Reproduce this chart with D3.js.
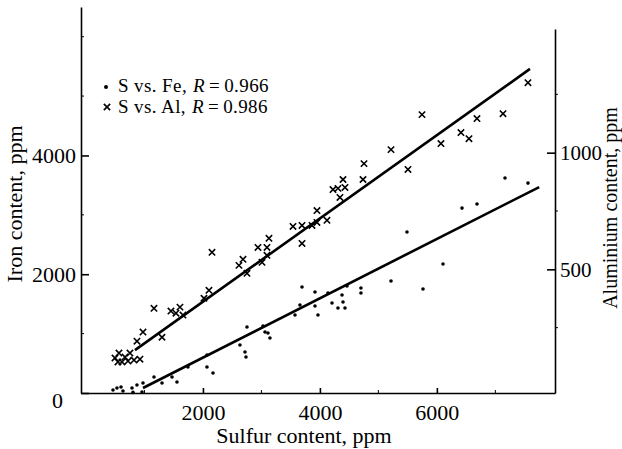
<!DOCTYPE html>
<html>
<head>
<meta charset="utf-8">
<script src="https://cdn.jsdelivr.net/npm/d3@7"></script>
<style>
  body { margin: 0; background: #fff; }
  svg { display: block; }
  text { font-family: "Liberation Serif", "Times New Roman", serif; fill: #000; }
</style>
</head>
<body>
<svg></svg>
<script>
// S vs Fe and S vs Al scatter, two y axes

// S vs. Fe (dots)
var sulfurFe = [462, 530, 599, 633, 787, 804, 872, 958, 975, 1163, 1300, 1471, 1556, 1744,
  2069, 2069, 2172, 2633, 2719, 2736, 2753, 3027, 3061, 3112, 3146, 3574, 3659, 3694,
  3916, 3967, 3916, 4138, 4207, 4309, 4429, 4395, 4378, 4463, 4702, 4702, 5216, 5489,
  5763, 6105, 6430, 6686, 7165, 7558];
var ironFe = [50, 84, 101, 34, 84, 10, 135, 17, 168, 269, 168, 269, 185, 438,
  438, 640, 337, 808, 690, 606, 1111, 1128, 1027, 1010, 926, 1313, 1481, 1785,
  1700, 1313, 1465, 1684, 1515, 1431, 1431, 1532, 1650, 1801, 1768, 1684, 1886, 2710,
  1751, 2172, 3114, 3182, 3620, 3535];

// S vs. Al (crosses)
var sulfurAl = [496, 547, 564, 616, 667, 718, 752, 821, 923, 872, 975, 1163, 1300, 1453,
  1539, 1607, 1659, 2018, 2103, 2155, 2616, 2685, 2753, 3010, 2941, 3129, 3095, 3095,
  3540, 3694, 3694, 3865, 3950, 4121, 3950, 4343, 4395, 4224, 4309, 4429, 4737, 4754,
  5216, 5746, 5506, 6070, 6412, 6549, 6686, 7131, 7558];
var aluminium = [120, 103, 141, 103, 124, 107, 141, 111, 115, 192, 231, 333, 209, 321,
  312, 338, 304, 376, 410, 573, 517, 543, 483, 530, 594, 633, 594, 560,
  684, 611, 688, 688, 701, 710, 752, 808, 885, 842, 847, 851, 885, 953,
  1013, 1163, 928, 1039, 1086, 1060, 1146, 1167, 1300];

// fitted lines (end points)
var feFitS = [975, 7750], feFitY = [84, 3468];
var alFitS = [838, 7592], alFitY = [154, 1359];

var sTicks = [2000, 4000, 6000], sMinor = [1000, 3000, 5000, 7000];
var feTicks = [0, 2000, 4000], feMinor = [1000, 3000, 5000, 6000];
var alTicks = [500, 1000], alMinor = [250, 750, 1250];

var legendRows = [
  {label: "S vs. Fe,", r: "0.966"},
  {label: "S vs. Al,", r: "0.986"}
];

var width = 622, height = 449;
var svg = d3.select("svg").attr("width", width).attr("height", height);

var x = d3.scaleLinear().domain([-85, 8020]).range([81, 555]);
var yFe = d3.scaleLinear().domain([0, 6500]).range([393, 7]);
var yAl = d3.scaleLinear().domain([-30, 1530]).range([393, 29]);

var fontSize = "22px";

// axes
var xAxis = svg.append("g")
  .attr("transform", "translate(0," + yFe(0) + ")")
  .call(d3.axisBottom(x).tickValues(sTicks).tickSize(-5).tickSizeOuter(0).tickPadding(11).tickFormat(d3.format("d")));

var leftAxis = svg.append("g")
  .attr("transform", "translate(" + x.range()[0] + ",0)")
  .call(d3.axisLeft(yFe).tickValues(feTicks).tickSize(-8).tickSizeOuter(0).tickPadding(5).tickFormat(d3.format("d")));

var rightAxis = svg.append("g")
  .attr("transform", "translate(" + x.range()[1] + ",0)")
  .call(d3.axisRight(yAl).tickValues(alTicks).tickSize(-8).tickSizeOuter(0).tickPadding(5).tickFormat(d3.format("d")));

[xAxis, leftAxis, rightAxis].forEach(function(g) {
  g.selectAll("path, line").attr("stroke", "#000").attr("stroke-width", 1.6);
  g.selectAll("text").style("font-size", fontSize).attr("font-family", null);
});
rightAxis.selectAll("text").style("font-size", "21px");

// the 0 label sits lower-left in the original
leftAxis.selectAll(".tick text").filter(function(d) { return d === 0; })
  .attr("x", -18).attr("y", 7);

// minor ticks
svg.append("g").selectAll("line").data(sMinor).enter().append("line")
  .attr("x1", function(d) { return x(d); }).attr("x2", function(d) { return x(d); })
  .attr("y1", yFe(0)).attr("y2", yFe(0) - 3)
  .attr("stroke", "#000").attr("stroke-width", 1);
svg.append("g").selectAll("line").data(feMinor).enter().append("line")
  .attr("x1", x.range()[0]).attr("x2", x.range()[0] + 3)
  .attr("y1", function(d) { return yFe(d); }).attr("y2", function(d) { return yFe(d); })
  .attr("stroke", "#000").attr("stroke-width", 1);
svg.append("g").selectAll("line").data(alMinor).enter().append("line")
  .attr("x1", x.range()[1]).attr("x2", x.range()[1] + 3)
  .attr("y1", function(d) { return yAl(d); }).attr("y2", function(d) { return yAl(d); })
  .attr("stroke", "#000").attr("stroke-width", 1);

// fit lines
var feLine = d3.line()
  .x(function(d) { return x(d[0]); })
  .y(function(d) { return yFe(d[1]); });
var alLine = d3.line()
  .x(function(d) { return x(d[0]); })
  .y(function(d) { return yAl(d[1]); });

svg.append("path")
  .datum(d3.zip(feFitS, feFitY))
  .attr("d", feLine)
  .attr("fill", "none").attr("stroke", "#000").attr("stroke-width", 2.6);
svg.append("path")
  .datum(d3.zip(alFitS, alFitY))
  .attr("d", alLine)
  .attr("fill", "none").attr("stroke", "#000").attr("stroke-width", 2.6);

// Fe dots
svg.append("g")
  .selectAll("circle")
  .data(d3.zip(sulfurFe, ironFe))
  .enter()
  .append("circle")
  .attr("cx", function(d) { return x(d[0]); })
  .attr("cy", function(d) { return yFe(d[1]); })
  .attr("r", 1.8)
  .attr("fill", "#000");

// Al crosses
var cross = d3.symbol().type(d3.symbolX).size(28);
svg.append("g")
  .selectAll("path")
  .data(d3.zip(sulfurAl, aluminium))
  .enter()
  .append("path")
  .attr("transform", function(d) { return "translate(" + x(d[0]) + "," + yAl(d[1]) + ")"; })
  .attr("d", cross)
  .attr("fill", "none")
  .attr("stroke", "#000")
  .attr("stroke-width", 1.6);

// legend, built piece by piece so the italic R gets its own text
var legend = svg.append("g").style("font-size", "19px").style("letter-spacing", "0.4px");
legend.append("circle").attr("cx", 106).attr("cy", 87).attr("r", 2).attr("fill", "#000");
legend.append("path").attr("transform", "translate(107,107)").attr("d", cross)
  .attr("fill", "none").attr("stroke", "#000").attr("stroke-width", 1.6);

legendRows.forEach(function(row, i) {
  var y = 92 + i * 21, cx = 118;
  var t1 = legend.append("text").attr("x", cx).attr("y", y).text(row.label);
  cx += t1.node().getComputedTextLength() + 6;
  var t2 = legend.append("text").attr("x", cx).attr("y", y).style("font-style", "italic").text("R");
  cx += t2.node().getComputedTextLength() + 4;
  var t3 = legend.append("text").attr("x", cx).attr("y", y).text("=");
  cx += t3.node().getComputedTextLength() + 4;
  legend.append("text").attr("x", cx).attr("y", y).text(row.r);
});

// axis titles
svg.append("text")
  .attr("x", 304).attr("y", 443)
  .attr("text-anchor", "middle")
  .style("font-size", fontSize)
  .text("Sulfur content, ppm");

svg.append("text")
  .attr("transform", "translate(22,204) rotate(-90)")
  .attr("text-anchor", "middle")
  .style("font-size", fontSize)
  .text("Iron content, ppm");

svg.append("text")
  .attr("transform", "translate(617,208) rotate(-90)")
  .attr("text-anchor", "middle")
  .style("font-size", "20px")
  .text("Aluminium content, ppm");
</script>
</body>
</html>
